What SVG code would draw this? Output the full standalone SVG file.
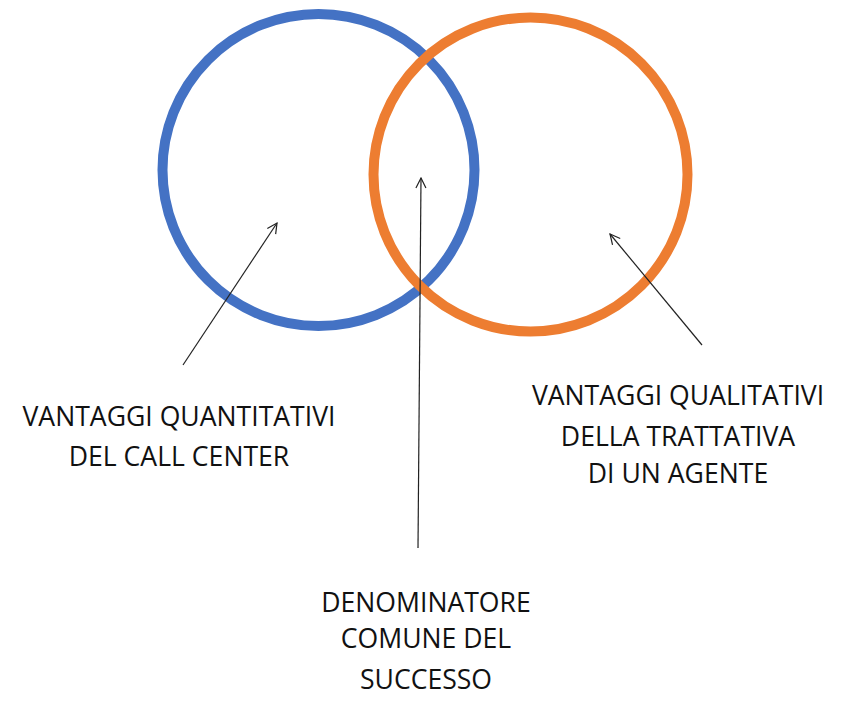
<svg xmlns="http://www.w3.org/2000/svg" width="860" height="705" viewBox="0 0 860 705">
<style>
.lbl{font-family:"Open Sans","Liberation Sans",sans-serif;font-size:26.6px;fill:#111;text-anchor:middle}
.ring{fill:none;stroke-width:10}
.conn{stroke:#222;stroke-width:1.2;fill:none;marker-end:url(#open)}
</style>
<defs>
<marker id="open" viewBox="0 0 12 12" refX="11" refY="6" markerWidth="12" markerHeight="12" markerUnits="userSpaceOnUse" orient="auto">
<path d="M1,1 L11,6 L1,11" fill="none" stroke="#222" stroke-width="1.2"/>
</marker>
</defs>
<rect width="860" height="705" fill="#fff"/>
<g id="blue-circle"><circle class="ring" cx="318.5" cy="170" r="156" stroke="#4472C4"/></g>
<g id="orange-circle"><circle class="ring" cx="530.5" cy="174.5" r="157" stroke="#ED7D31"/></g>
<g id="connectors">
<line class="conn" x1="183" y1="365" x2="277" y2="223"/>
<line class="conn" x1="418" y1="548" x2="421" y2="178"/>
<line class="conn" x1="702" y1="345" x2="610" y2="234"/>
</g>
<g id="label-left">
<text class="lbl" x="179" y="426">VANTAGGI QUANTITATIVI</text>
<text class="lbl" x="179" y="466">DEL CALL CENTER</text>
</g>
<g id="label-right">
<text class="lbl" x="678" y="405">VANTAGGI QUALITATIVI</text>
<text class="lbl" x="678" y="446">DELLA TRATTATIVA</text>
<text class="lbl" x="678" y="483">DI UN AGENTE</text>
</g>
<g id="label-bottom">
<text class="lbl" x="426" y="612">DENOMINATORE</text>
<text class="lbl" x="426" y="648">COMUNE DEL</text>
<text class="lbl" x="426" y="689">SUCCESSO</text>
</g>
</svg>
